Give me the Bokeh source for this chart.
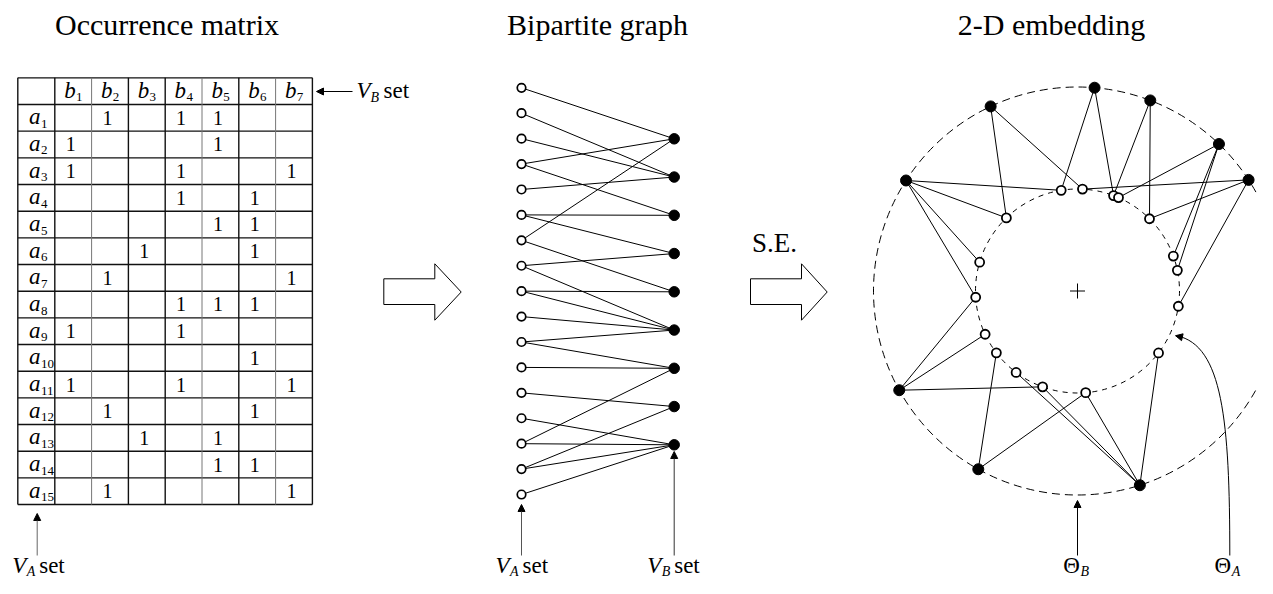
import numpy as np
from bokeh.plotting import figure
from bokeh.models import Range1d, Arrow, NormalHead
from bokeh.core.properties import value
from bokeh.embed import file_html
from bokeh.resources import INLINE

# ---------------- data ----------------
titles = ["Occurrence matrix", "Bipartite graph", "2-D embedding"]
col_subs = ["1", "2", "3", "4", "5", "6", "7"]
row_subs = ["1", "2", "3", "4", "5", "6", "7", "8", "9", "10",
            "11", "12", "13", "14", "15"]
# for each row a_i: indices (1-based) of the b_j columns holding a 1
occurrence = [
    [2, 4, 5], [1, 5], [1, 4, 7], [4, 6], [5, 6], [3, 6], [2, 7],
    [4, 5, 6], [1, 4], [6], [1, 4, 7], [2, 6], [3, 5], [5, 6], [2, 7],
]
# bipartite graph: 17 open (V_A) nodes, 9 filled (V_B) nodes
n_open = 17
n_filled = 9
bip_open = [0, 1, 2, 3, 3, 4, 5, 5, 6, 6, 7, 7, 8, 8, 9, 10, 10, 11, 12, 13, 14, 14, 15, 15, 16]
bip_filled = [0, 1, 1, 0, 2, 1, 2, 3, 0, 4, 3, 5, 4, 5, 5, 5, 6, 6, 7, 8, 6, 8, 7, 8, 8]
# 2-D embedding: angles (degrees) of the nodes on the two circles
theta_B = [147.2, 115.2, 85.2, 69.1, 46.1, 33.0, 287.8, 240.9, 209.1]
theta_A = [183.5, 163.6, 134.2, 99.2, 87.2, 69.3, 66.3, 45.1, 20.0, 11.7,
           351.4, 322.6, 274.6, 250.0, 233.0, 217.3, 205.1]
emb_B = [0, 0, 0, 0, 1, 1, 2, 2, 3, 3, 4, 4, 4, 5, 5, 5, 6, 6, 6, 6, 7, 7, 8, 8, 8]
emb_A = [3, 2, 1, 0, 2, 4, 3, 5, 5, 7, 6, 8, 9, 4, 7, 10, 14, 13, 12, 11, 15, 12, 0, 16, 13]

# ---------------- figure ----------------
FONT = value("Liberation Serif")
W, H = 1257, 578
p = figure(width=W, height=H, x_range=Range1d(0, W), y_range=Range1d(H, 0),
           output_backend="svg", toolbar_location=None,
           x_axis_type=None, y_axis_type=None, min_border=0)
p.grid.visible = False
p.outline_line_color = None
p.background_fill_color = "white"
p.border_fill_color = "white"

KB = 0.36  # baseline compensation (fraction of font size)


def txt(xs, ys, texts, size, style="normal", align="left"):
    ys = [y - KB * size for y in ys]
    p.text(x=xs, y=ys, text=texts, text_font=FONT, text_font_size=f"{size}px",
           text_font_style=style, text_align=align, text_baseline="alphabetic",
           text_color="black")


def arrow(x0, y0, x1, y1, color="black", size=8):
    p.add_layout(Arrow(x_start=x0, y_start=y0, x_end=x1, y_end=y1,
                       line_color=color, line_width=1,
                       end=NormalHead(size=size, fill_color="black",
                                      line_color="black", line_width=1)))


# titles
txt([166.5, 597, 1051], [34.5, 34.5, 34.5], titles, 30, align="center")

# ---------------- occurrence matrix ----------------
TX0, TX1, CW = 17.3, 54.3, 36.8
TY0, RH = 77.33, 26.67
n_cols, n_rows = len(col_subs), len(row_subs)
xe = [TX0] + [TX1 + CW * k for k in range(n_cols + 1)]
ye = [TY0 + RH * r for r in range(n_rows + 2)]
p.segment(x0=[xe[0]] * len(ye), y0=ye, x1=[xe[-1]] * len(ye), y1=ye,
          line_color="#111111", line_width=1.4)
thick = [0, 1, 3, 4, 6, 8]
xt = [xe[k] for k in range(len(xe)) if k in thick]
xn = [xe[k] for k in range(len(xe)) if k not in thick]
p.segment(x0=xt, y0=[ye[0]] * len(xt), x1=xt, y1=[ye[-1]] * len(xt),
          line_color="#111111", line_width=1.4)
p.segment(x0=xn, y0=[ye[0]] * len(xn), x1=xn, y1=[ye[-1]] * len(xn),
          line_color="#777777", line_width=1)

ccx = [TX1 + CW * (j + 0.5) for j in range(n_cols)]
# header b_j
txt([c + 2.5 for c in ccx], [ye[0] + 20.5] * n_cols, ["b"] * n_cols, 23, "italic", "right")
txt([c + 2.8 for c in ccx], [ye[0] + 24] * n_cols, col_subs, 13)
# row labels a_i
txt([28.5] * n_rows, [ye[r + 1] + 20.5 for r in range(n_rows)], ["a"] * n_rows, 23, "italic")
txt([40.5] * n_rows, [ye[r + 1] + 24 for r in range(n_rows)], row_subs, 13)
# ones
ox, oy = [], []
for i, cols in enumerate(occurrence):
    for j in cols:
        ox.append(ccx[j - 1] - 2.5)
        oy.append(ye[i + 1] + 20.5)
txt(ox, oy, ["1"] * len(ox), 20, align="center")

# V_B set (top right of matrix)
arrow(352, 91, 316, 91, size=7)
txt([356], [98.5], ["V"], 23, "italic")
txt([370], [102], ["B"], 14, "italic")
txt([383], [98.5], ["set"], 23)

# bottom labels (baseline kept inside the drawing area)
BASE = 573
TAIL = 555


def va_label(x, sub):
    txt([x], [BASE], ["V"], 23, "italic")
    txt([x + 14.5], [BASE + 3], [sub], 14, "italic")
    txt([x + 27], [BASE], ["set"], 23)


arrow(36.7, TAIL, 36.7, 513, color="#666666", size=7)
va_label(11.7, "A")

# ---------------- big arrows + S.E. ----------------
def big_arrow(x0, xb, xtip):
    ys_shaft = (278.3, 304.0)
    ys_head = (263.3, 319.7)
    ymid = 291.5
    px = [x0, xb, xb, xtip, xb, xb, x0]
    py = [ys_shaft[0], ys_shaft[0], ys_head[0], ymid, ys_head[1], ys_shaft[1], ys_shaft[1]]
    p.patch(px, py, fill_color="white", line_color="black", line_width=1)


big_arrow(383.3, 434.3, 460.7)
big_arrow(750.0, 801.0, 826.7)
txt([751.5], [252], ["S.E."], 27)

# ---------------- bipartite graph ----------------
LX, LY0, LDY = 521.0, 87.3, 25.42
RX, RY0, RDY = 673.7, 138.3, 38.25
oy_nodes = [LY0 + LDY * k for k in range(n_open)]
fy_nodes = [RY0 + RDY * k for k in range(n_filled)]
p.segment(x0=[LX] * len(bip_open), y0=[oy_nodes[k] for k in bip_open],
          x1=[RX] * len(bip_filled), y1=[fy_nodes[k] for k in bip_filled],
          line_color="black", line_width=1)
p.scatter([LX] * n_open, oy_nodes, size=8.5, marker="circle",
          fill_color="white", line_color="black", line_width=1.7)
p.scatter([RX] * n_filled, fy_nodes, size=10.5, marker="circle",
          fill_color="black", line_color="black")
arrow(LX, TAIL, LX, 504, color="#555555", size=7)
arrow(RX, TAIL, RX, 451, color="#333333", size=7)
va_label(495, "A")
va_label(646.7, "B")

# ---------------- 2-D embedding ----------------
CX, CY, RB, RA = 1077.0, 290.5, 204.0, 102.0
tb = np.radians(theta_B)
ta = np.radians(theta_A)
bx = CX + RB * np.cos(tb)
by = CY - RB * np.sin(tb)
ax = CX + RA * np.cos(ta)
ay = CY - RA * np.sin(ta)

p.circle(x=[CX], y=[CY], radius=RB, fill_color=None, line_color="black",
         line_width=1, line_dash="8 5")
p.circle(x=[CX], y=[CY], radius=RA, fill_color=None, line_color="black",
         line_width=1, line_dash="5 5")
p.scatter([CX], [CY], marker="cross", size=15, line_color="black", line_width=1)

p.segment(x0=bx[emb_B], y0=by[emb_B], x1=ax[emb_A], y1=ay[emb_A],
          line_color="black", line_width=1)
p.scatter(ax, ay, size=9, marker="circle", fill_color="white",
          line_color="black", line_width=1.8)
p.scatter(bx, by, size=11, marker="circle", fill_color="black", line_color="black")

# Theta_B arrow and label
arrow(CX, TAIL, CX, 500, color="black", size=7)
txt([1062.7], [BASE], ["\u0398"], 23)
txt([1080], [BASE + 3], ["B"], 14, "italic")

# Theta_A curved arrow and label
p.bezier(x0=[1229.3], y0=[TAIL], x1=[1176.5], y1=[335.3],
         cx0=[1229.3], cy0=[420], cx1=[1222], cy1=[345],
         line_color="black", line_width=1)
p.add_layout(Arrow(x_start=1183, y_start=337, x_end=1175, y_end=335.2,
                   line_alpha=0, line_width=1,
                   end=NormalHead(size=7, fill_color="black", line_color="black",
                                  line_width=1)))
txt([1214], [BASE], ["\u0398"], 23)
txt([1231.3], [BASE + 3], ["A"], 14, "italic")

open("out.html", "w").write(file_html(p, INLINE))
